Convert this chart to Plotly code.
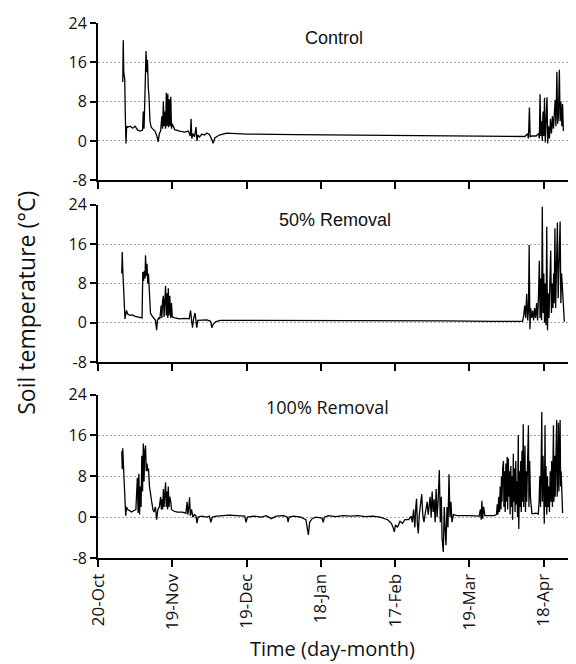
import pandas as pd
import plotly.graph_objects as go

START = "2012-10-20"
TICK_LABEL_DAYS = [0, 30, 60, 90, 120, 150, 180]
Y_TICKS = [-8, 0, 8, 16, 24]
Y_TICK_TEXT = ["-8", "0", "8", "16", "24"]
PANEL_TITLES = ["Control", "50% Removal", "100% Removal"]

# Control: days since 20-Oct, soil temperature (°C)
control_days = [
    10.0, 10.2, 10.4, 10.6, 10.8, 11.0, 11.3, 11.6, 12.0, 13.0,
    14.0, 15.0, 16.0, 17.0, 18.0, 18.3, 18.6, 19.0, 19.4, 19.7,
    20.0, 20.3, 20.6, 21.0, 21.5, 22.0, 23.0, 23.8, 24.3, 24.8,
    25.3, 25.8, 26.1, 26.4, 26.7, 27.0, 27.3, 27.6, 27.9, 28.2,
    28.5, 28.8, 29.1, 29.4, 29.7, 30.0, 31.0, 33.0, 35.0, 36.5,
    37.3, 37.6, 37.9, 38.4, 39.0, 39.6, 40.0, 40.3, 41.0, 42.0,
    43.0, 44.0, 45.0, 46.0, 46.5, 47.2, 49.0, 52.0, 60.0, 80.0,
    100.0, 120.0, 140.0, 160.0, 165.0, 170.0, 172.5, 173.5, 173.9, 174.3,
    174.6, 175.2, 177.0, 178.0, 178.3, 178.6, 178.9, 179.2, 179.5, 179.8,
    180.1, 180.4, 180.7, 181.0, 181.4, 181.7, 182.0, 182.4, 182.8, 183.2,
    183.6, 184.0, 184.4, 184.7, 185.0, 185.4, 185.7, 186.0, 186.4, 186.7,
    187.0, 187.4, 187.7, 188.0,
]
control_temp = [
    12.0, 20.5, 14.0, 13.0, 12.5, 6.0, -0.5, 3.0, 2.8, 3.0,
    2.6, 3.0, 2.2, 2.0, 2.2, 6.0, 2.5, 10.0, 18.3, 14.0,
    16.5, 11.0, 9.0, 4.0, 2.8, 2.5, 2.0, 1.0, -0.2, 1.5,
    2.0, 5.0, 2.5, 8.0, 3.0, 6.0, 2.5, 9.8, 3.0, 9.6,
    2.8, 8.5, 3.0, 9.0, 2.5, 3.5, 2.3, 2.0, 1.8, 2.0,
    1.0, 4.5, 0.5, 1.5, 0.8, 2.8, 0.0, 1.2, 0.8, 1.4,
    1.2, 1.6, 1.3, 0.3, -0.5, 0.6, 1.2, 1.6, 1.4, 1.3,
    1.2, 1.15, 1.1, 1.0, 0.9, 1.0, 0.9, 1.5, 0.5, 6.8,
    0.8, 1.0, 1.0, 1.5, 0.5, 9.5, 1.0, 4.0, 0.0, 6.0,
    1.0, 8.8, -0.3, 3.5, 8.9, -0.5, 3.0, 0.5, 4.5, 1.5,
    5.0, 2.5, 6.0, 8.3, 3.0, 14.1, 3.5, 5.0, 14.5, 4.0,
    8.0, 3.0, 7.5, 2.0,
]

# 50% Removal
half_days = [
    9.6, 9.8, 10.0, 10.2, 10.5, 10.9, 11.5, 12.0, 13.0, 14.0,
    15.0, 16.0, 17.0, 17.8, 18.1, 18.4, 18.7, 19.0, 19.2, 19.5,
    19.8, 20.1, 20.4, 20.8, 21.2, 21.7, 22.5, 23.2, 23.7, 24.0,
    24.5, 25.0, 25.5, 25.8, 26.1, 26.4, 26.7, 27.0, 27.3, 27.6,
    27.9, 28.2, 28.4, 28.7, 29.0, 29.4, 29.7, 30.0, 31.0, 33.0,
    35.0, 36.8, 37.4, 37.8, 38.2, 38.6, 39.2, 39.6, 39.9, 40.3,
    42.0, 44.0, 45.5, 46.0, 46.5, 47.5, 49.3, 60.0, 80.0, 100.0,
    120.0, 140.0, 160.0, 171.5, 172.0, 172.4, 172.8, 173.2, 173.6, 173.9,
    174.2, 174.5, 174.8, 175.2, 175.6, 176.0, 176.4, 176.8, 177.2, 177.6,
    178.0, 178.3, 178.6, 178.9, 179.2, 179.5, 179.8, 180.1, 180.4, 180.7,
    181.0, 181.3, 181.6, 181.9, 182.2, 182.6, 182.9, 183.2, 183.5, 183.8,
    184.1, 184.3, 184.6, 184.9, 185.2, 185.6, 185.9, 186.2, 186.7, 187.0,
    187.3, 187.7, 188.0, 188.4,
]
half_temp = [
    10.0, 14.4, 11.0, 8.3, 8.0, 0.8, 2.5, 1.8, 1.5, 1.6,
    1.3, 1.2, 1.0, 1.0, 10.3, 8.5, 10.5, 9.0, 13.7, 9.5,
    12.0, 8.0, 10.0, 4.0, 2.0, 1.5, 1.0, 0.5, -1.5, 0.5,
    1.0, 0.8, 3.5, 1.0, 4.5, 5.5, 1.2, 4.0, 7.5, 1.5,
    6.0, 1.0, 7.0, 1.5, 5.5, 1.0, 4.0, 1.2, 1.0, 0.8,
    0.9, 0.8, 2.5, 0.5, -1.0, 0.8, 2.0, 0.3, -1.0, 0.5,
    0.5, 0.6, 0.3, -1.0, -0.3, 0.2, 0.5, 0.5, 0.5, 0.45,
    0.45, 0.4, 0.3, 0.3, 1.5, 3.5, 1.0, 5.9, 0.5, 2.5,
    15.8, -1.3, 3.0, 1.0, 2.5, 0.5, 3.0, 1.0, 4.0, 0.5,
    6.0, 12.6, 1.0, 9.0, 0.5, 23.6, 2.0, 10.0, 0.0, 8.0,
    -0.5, 19.5, -1.5, 6.0, 1.0, 10.0, 14.7, 2.0, 8.0, 3.0,
    10.0, 4.0, 19.2, 3.0, 12.0, 20.4, 5.0, 14.0, 20.6, 4.0,
    10.0, 6.5, 3.0, 0.2,
]

# 100% Removal
full_days = [
    9.6, 9.8, 10.0, 10.2, 10.5, 11.2, 11.5, 12.0, 13.0, 13.6,
    14.5, 15.3, 15.9, 16.2, 16.5, 16.8, 17.1, 17.4, 17.7, 18.0,
    18.3, 18.6, 18.9, 19.2, 19.5, 19.8, 20.1, 20.4, 20.8, 21.2,
    21.7, 22.2, 22.6, 23.2, 23.7, 24.2, 24.8, 25.3, 25.6, 25.9,
    26.1, 26.4, 26.7, 27.0, 27.3, 27.6, 27.9, 28.1, 28.4, 28.7,
    29.0, 29.4, 29.7, 30.5, 32.0, 34.0, 35.5, 36.0, 36.3, 36.7,
    37.0, 37.3, 37.8, 38.3, 39.0, 39.6, 40.0, 40.4, 42.0, 44.0,
    45.0, 45.6, 46.2, 48.0, 50.0, 53.0, 56.0, 59.3, 59.8, 60.4,
    63.0, 66.0, 68.0, 70.0, 72.0, 75.0, 76.5, 76.8, 77.2, 79.0,
    82.0, 84.0, 84.5, 85.0, 85.5, 86.5, 88.0, 90.5, 91.0, 91.5,
    93.0, 96.0, 99.0, 102.0, 105.0, 108.0, 111.0, 114.0, 117.0, 118.5,
    119.2, 119.7, 120.2, 121.0, 122.0, 123.0, 124.0, 125.5, 126.5, 127.0,
    127.5, 128.0, 128.4, 128.7, 129.0, 129.4, 129.8, 130.2, 130.8, 131.2,
    131.7, 132.3, 133.0, 133.4, 133.8, 134.2, 134.6, 135.0, 135.4, 135.8,
    136.2, 136.6, 137.0, 137.4, 137.9, 138.3, 138.7, 139.0, 139.5, 139.9,
    140.3, 140.6, 141.0, 141.4, 141.8, 142.2, 142.6, 143.0, 143.6, 145.0,
    150.0, 154.0, 154.5, 154.8, 155.1, 155.4, 155.8, 156.3, 160.0, 161.0,
    161.3, 161.6, 161.9, 162.2, 162.5, 162.8, 163.0, 163.2, 163.5, 163.8,
    164.0, 164.3, 164.5, 164.8, 165.0, 165.3, 165.5, 165.8, 166.0, 166.3,
    166.5, 166.8, 167.0, 167.3, 167.5, 167.8, 168.0, 168.3, 168.5, 168.8,
    169.0, 169.3, 169.5, 169.8, 170.0, 170.3, 170.5, 170.8, 171.0, 171.3,
    171.5, 171.8, 172.0, 172.2, 172.5, 172.7, 173.0, 173.2, 173.5, 173.9,
    174.1, 174.4, 174.7, 175.0, 175.3, 176.0, 177.0, 177.9, 178.2, 178.5,
    178.8, 179.3, 179.5, 179.8, 180.0, 180.3, 180.6, 180.8, 181.0, 181.3,
    181.6, 181.8, 182.1, 182.4, 182.7, 183.0, 183.3, 183.6, 184.0, 184.2,
    184.5, 184.7, 185.0, 185.3, 185.5, 185.8, 186.0, 186.2, 186.5, 186.7,
    186.9, 187.1, 187.3, 187.5, 187.7,
]
full_temp = [
    12.9, 9.4, 13.5, 8.0, 7.7, 0.3, 2.0, 1.5, 1.2, 1.0,
    1.3, 1.5, 7.7, 0.8, 8.5, 0.5, 6.0, 2.0, 12.0, 5.0,
    14.4, 7.0, 13.0, 14.0, 9.0, 10.5, 9.0, 9.5, 6.0, 4.0,
    3.0, 1.5, 1.0, 2.0, -0.5, 1.5, 2.0, 4.0, 1.5, 3.5,
    1.5, 5.5, 2.0, 4.5, 6.8, 2.0, 5.0, 1.5, 6.0, 2.0,
    4.0, 3.0, 1.5, 1.2, 1.0, 1.0, 0.8, 3.0, 0.5, 2.0,
    3.9, 0.3, 1.5, 0.0, 0.5, 0.2, -1.2, 0.0, 0.2, 0.0,
    0.2, -1.0, 0.0, 0.2, 0.3, 0.4, 0.3, 0.2, -1.0, 0.0,
    0.2, 0.0, 0.3, -0.3, 0.2, 0.3, 0.0, -1.0, 0.0, 0.2,
    0.0, -0.5, -2.0, -3.5, -1.0, -0.3, 0.0, -0.2, -1.0, 0.0,
    0.3, 0.1, 0.3, 0.2, 0.3, 0.1, 0.2, 0.0, -0.5, -1.2,
    -2.0, -2.9, -1.5, -2.0, -0.8, -1.2, -0.5, -0.5, 0.2, -1.0,
    1.5, -2.0, 2.0, 3.6, -1.0, -3.2, 0.5, 2.0, 4.5, 0.5,
    -1.0, 1.0, 3.0, 0.5, 2.0, 4.0, 0.0, 5.0, 1.0, 3.5,
    -1.0, 5.5, 0.0, 3.0, 9.2, -1.0, 4.0, -4.0, -6.8, 2.0,
    -3.0, -5.5, 2.0, -2.0, 8.4, 0.0, 3.0, -1.0, 0.5, 0.3,
    0.3, 0.2, 1.5, -0.5, 3.2, -0.3, 2.0, 0.3, 0.3, 0.5,
    2.5, 0.5, 4.0, 1.0, 6.0, 1.5, 8.0, 3.0, 9.5, 11.0,
    2.0, 9.0, 1.0, 10.5, 3.0, 11.8, 1.5, 11.5, 4.0, 9.0,
    0.5, 10.0, 2.0, 8.0, -0.5, 12.4, 3.0, 9.5, 1.0, 11.0,
    2.5, 7.0, 0.0, 16.1, -2.3, 9.0, 2.0, 11.0, 1.0, 13.0,
    3.0, 18.2, 2.0, 10.0, 14.0, 1.0, 9.0, 3.0, 12.0, 18.0,
    2.0, 11.0, 4.0, 1.5, 0.7, 0.7, 0.8, 0.6, 3.0, 8.0,
    2.0, 20.6, 3.0, 12.0, 1.0, -1.3, 18.0, 2.0, 10.0, 0.5,
    8.0, 2.0, 6.0, 1.0, 9.0, 3.0, 11.0, 2.0, 18.0, 3.0,
    12.0, 4.0, 10.0, 19.0, 4.0, 9.0, 18.5, 5.0, 14.0, 19.0,
    6.0, 9.0, 6.5, 4.0, 0.8,
]

start = pd.Timestamp(START)
def to_dates(days):
    return start + pd.to_timedelta(days, unit="D")

series = [
    (control_days, control_temp),
    (half_days, half_temp),
    (full_days, full_temp),
]

# panel domains (paper fraction, bottom-up): top, middle, bottom
domains = [[0.7061, 1.0], [0.366, 0.6604], [0.0, 0.3055]]
title_pos = [(0.498, 0.972), (0.499, 0.631), (0.485, 0.283)]
title_fonts = ["Liberation Sans", "Liberation Sans", "Open Sans"]

fig = go.Figure()
x_end = start + pd.Timedelta(days=191.5)
tickvals = list(to_dates(TICK_LABEL_DAYS))

# the page body has an 8px margin, so the figure is 8px smaller than the window
layout = dict(
    width=568, height=656,
    margin=dict(l=90, r=4, t=9, b=106),
    paper_bgcolor="white", plot_bgcolor="white",
    showlegend=False,
    font=dict(family="Open Sans", color="#111111"),
)

for i, (d, t) in enumerate(series):
    n = "" if i == 0 else str(i + 1)
    fig.add_trace(go.Scatter(
        x=to_dates(d), y=t, mode="lines",
        line=dict(color="black", width=1.3),
        xaxis="x" + n, yaxis="y" + n, hoverinfo="skip",
    ))
    layout["xaxis" + n] = dict(
        type="date", range=[start, x_end], domain=[0, 1],
        anchor="y" + n,
        tickvals=tickvals, tickformat="%d-%b", tickangle=-90,
        showticklabels=(i == 2),
        ticks="outside", ticklen=7, tickwidth=2, tickcolor="black",
        showline=True, linewidth=2, linecolor="black",
        showgrid=False, zeroline=False,
        tickfont=dict(size=17, family="Open Sans", color="#111111"),
    )
    layout["yaxis" + n] = dict(
        range=[-8, 24], domain=domains[i], anchor="x" + n,
        tickvals=Y_TICKS, ticktext=Y_TICK_TEXT,
        ticks="outside", ticklen=6, tickwidth=2, tickcolor="black",
        showline=True, linewidth=2, linecolor="black",
        showgrid=True, gridcolor="#a8a8a8", griddash="2px,2px", gridwidth=1,
        zeroline=False,
        tickfont=dict(size=16, family="Open Sans", color="#111111"),
    )

annotations = []
for i, name in enumerate(PANEL_TITLES):
    annotations.append(dict(
        text=name, xref="paper", yref="paper",
        x=title_pos[i][0], y=title_pos[i][1],
        xanchor="center", yanchor="middle", showarrow=False,
        font=dict(size=18, family=title_fonts[i], color="#111111"),
    ))
annotations.append(dict(
    text="Soil temperature (°C)", xref="paper", yref="paper",
    x=-0.152, y=0.477, textangle=-90, xanchor="center", yanchor="middle",
    showarrow=False, font=dict(size=23, family="Open Sans", color="#111111"),
))
annotations.append(dict(
    text="Time (day-month)", xref="paper", yref="paper",
    x=0.495, y=-0.170, xanchor="center", yanchor="middle",
    showarrow=False, font=dict(size=20, family="Open Sans", color="#111111"),
))
layout["annotations"] = annotations

fig.update_layout(**layout)
fig.write_html("out.html")
